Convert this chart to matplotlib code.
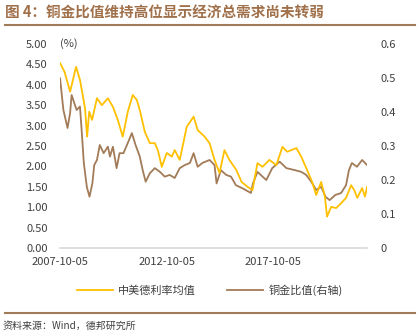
import matplotlib
matplotlib.use("Agg")
import matplotlib.pyplot as plt
import matplotlib.dates as mdates
import pandas as pd

plt.rcParams['font.family'] = ['Noto Sans CJK SC', 'DejaVu Sans']

# 中美德利率均值 (%), left axis
rate_dates = [
    '2007-10-05', '2007-12-20', '2008-03-25', '2008-07-05', '2008-09-10',
    '2008-12-05', '2009-01-10', '2009-02-15', '2009-04-05', '2009-06-28',
    '2009-09-20', '2010-01-01', '2010-03-28', '2010-06-20', '2010-09-12',
    '2010-12-08', '2011-03-02', '2011-05-10', '2011-07-01', '2011-09-25',
    '2011-12-20', '2012-03-15', '2012-05-05', '2012-07-12', '2012-10-05',
    '2012-12-31', '2013-02-18', '2013-05-15', '2013-09-12', '2014-01-08',
    '2014-03-18', '2014-07-15', '2014-10-08', '2015-01-01', '2015-03-28',
    '2015-06-20', '2015-09-12', '2016-01-10', '2016-04-08', '2016-07-20',
    '2016-10-12', '2017-01-05', '2017-04-01', '2017-07-28', '2017-11-25',
    '2018-03-08', '2018-05-30', '2018-11-02', '2019-01-25', '2019-04-20',
    '2019-07-30', '2019-10-08', '2020-01-01', '2020-03-05', '2020-04-10',
    '2020-06-20', '2020-09-12', '2020-12-08', '2021-03-02', '2021-05-28',
    '2021-07-20', '2021-09-10', '2021-12-02', '2022-01-20', '2022-02-25',
]
rate_values = [
    4.53, 4.32, 3.83, 4.44, 4.12,
    3.43, 2.73, 3.34, 3.14, 3.67,
    3.50, 3.67, 3.46, 3.14, 2.73,
    3.34, 3.75, 3.63, 3.38, 2.85,
    2.57, 2.57, 2.40, 1.99, 2.33,
    2.24, 2.40, 2.16, 2.97, 3.22,
    2.89, 2.73, 2.57, 2.16, 1.84,
    2.40, 2.16, 1.91, 1.62, 1.50,
    1.42, 2.08, 1.99, 2.16, 2.03,
    2.48, 2.36, 2.45, 2.24, 1.96,
    1.62, 1.30, 1.62, 1.26, 0.77,
    1.01, 0.98, 1.10, 1.23, 1.54,
    1.42, 1.23, 1.47, 1.26, 1.50,
]

# 铜金比值, right axis
ratio_dates = [
    '2007-10-05', '2007-12-01', '2008-02-10', '2008-03-25', '2008-04-20',
    '2008-06-05', '2008-07-15', '2008-09-10', '2008-10-12', '2008-11-15',
    '2009-01-05', '2009-02-20', '2009-04-10', '2009-05-12', '2009-06-28',
    '2009-08-15', '2009-10-20', '2010-01-01', '2010-02-05', '2010-03-28',
    '2010-05-30', '2010-07-20', '2010-09-25', '2010-12-08', '2011-02-15',
    '2011-04-20', '2011-07-01', '2011-08-20', '2011-10-10', '2011-12-20',
    '2012-03-15', '2012-06-10', '2012-09-01', '2012-11-25', '2013-02-18',
    '2013-05-15', '2013-08-10', '2013-11-05', '2014-01-08', '2014-03-18',
    '2014-06-05', '2014-10-08', '2015-01-01', '2015-02-05', '2015-04-20',
    '2015-07-20', '2015-10-10', '2016-01-01', '2016-04-20', '2016-09-15',
    '2016-10-20', '2017-01-05', '2017-06-05', '2017-09-15', '2018-01-20',
    '2018-05-15', '2018-10-10', '2019-01-25', '2019-04-20', '2019-07-15',
    '2019-10-08', '2020-01-01', '2020-03-15', '2020-05-25', '2020-08-30',
    '2020-12-08', '2021-03-02', '2021-04-20', '2021-06-10', '2021-09-05',
    '2021-12-02', '2022-02-25',
]
ratio_values = [
    0.499, 0.406, 0.353, 0.397, 0.450,
    0.426, 0.406, 0.416, 0.338, 0.250,
    0.180, 0.151, 0.190, 0.244, 0.259,
    0.303, 0.279, 0.298, 0.269, 0.298,
    0.235, 0.279, 0.279, 0.309, 0.338,
    0.303, 0.269, 0.229, 0.195, 0.220,
    0.235, 0.224, 0.210, 0.215, 0.206,
    0.235, 0.244, 0.250, 0.279, 0.239,
    0.250, 0.259, 0.244, 0.190, 0.229,
    0.215, 0.210, 0.185, 0.176, 0.162,
    0.190, 0.224, 0.200, 0.235, 0.254,
    0.235, 0.229, 0.224, 0.215, 0.195,
    0.171, 0.180, 0.151, 0.141, 0.156,
    0.162, 0.185, 0.229, 0.250, 0.239,
    0.259, 0.244,
]

x_ticks = ['2007-10-05', '2012-10-05', '2017-10-05']
left_ticks = [0, 0.5, 1, 1.5, 2, 2.5, 3, 3.5, 4, 4.5, 5]
right_ticks = [0, 0.1, 0.2, 0.3, 0.4, 0.5, 0.6]

yellow = '#FFC000'
brown = '#A27B58'
title_brown = '#A0704A'
text_grey = '#404040'

fig = plt.figure(figsize=(4.2, 3.33), dpi=100)
ax = fig.add_axes([0.143, 0.255, 0.731, 0.613])
ax2 = ax.twinx()

rd = pd.to_datetime(rate_dates)
cd = pd.to_datetime(ratio_dates)
l1, = ax.plot(rd, rate_values, color=yellow, lw=1.3, label='中美德利率均值')
l2, = ax2.plot(cd, ratio_values, color=brown, lw=1.3, label='铜金比值(右轴)')
ax.set_zorder(ax2.get_zorder() + 1)
ax.patch.set_visible(False)

ax.set_ylim(0, 5)
ax2.set_ylim(0, 0.6)
ax.set_xlim(pd.Timestamp('2007-10-05'), pd.Timestamp('2022-02-25'))

ax.set_yticks(left_ticks)
ax.set_yticklabels([f'{v:.2f}' for v in left_ticks])
ax2.set_yticks(right_ticks)
ax2.set_yticklabels(['0' if v == 0 else f'{v:.1f}' for v in right_ticks])
ax.set_xticks(pd.to_datetime(x_ticks))
ax.xaxis.set_major_formatter(mdates.DateFormatter('%Y-%m-%d'))

for a in (ax, ax2):
    for s in a.spines.values():
        s.set_visible(False)
    a.tick_params(length=0, labelsize=8, colors=text_grey)
ax.spines['bottom'].set_visible(True)
ax.spines['bottom'].set_color('#d9d9d9')
ax.spines['bottom'].set_linewidth(1.2)
ax.tick_params(axis='y', pad=9)
ax2.tick_params(axis='y', pad=10)
ax.tick_params(axis='x', pad=6.5)

ax.text(0.0, 1.0, '(%)', transform=ax.transAxes, fontsize=8,
        color=text_grey, ha='left', va='center')

fig.legend(handles=[l1, l2], loc='center', bbox_to_anchor=(0.5, 0.128),
           ncol=2, frameon=False, fontsize=8, handlelength=3.2,
           columnspacing=2.8, handletextpad=0.5, labelcolor=text_grey)

fig.text(0.012, 0.963, '图 4：铜金比值维持高位显示经济总需求尚未转弱',
         fontsize=10.5, fontweight='bold', color=title_brown, ha='left', va='center')
fig.add_artist(plt.Line2D([0.012, 0.988], [0.925, 0.925], color=brown, lw=1.5,
                          transform=fig.transFigure))
fig.add_artist(plt.Line2D([0.012, 0.988], [0.06, 0.06], color=brown, lw=1.5,
                          transform=fig.transFigure))
fig.text(0.005, 0.02, '资料来源：Wind，德邦研究所', fontsize=7.2,
         color=text_grey, ha='left', va='center')

fig.savefig('out.png', dpi=100)
